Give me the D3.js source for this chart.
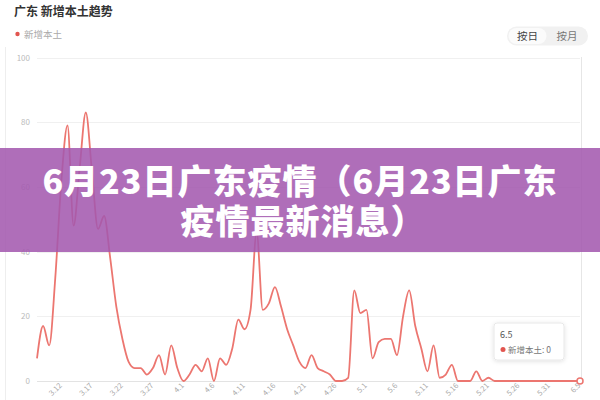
<!DOCTYPE html>
<html><head><meta charset="utf-8">
<script src="https://cdn.jsdelivr.net/npm/d3@7"></script>
<style>html,body{margin:0;padding:0;background:#fff;}svg{display:block;font-family:"Noto Sans CJK SC","Noto Sans",sans-serif;}</style>
</head><body><svg id="c" width="600" height="400"></svg>
<script>
const dates = ["3.8","3.9","3.10","3.11","3.12","3.13","3.14","3.15","3.16","3.17","3.18","3.19","3.20","3.21","3.22","3.23","3.24","3.25","3.26","3.27","3.28","3.29","3.30","3.31",
"4.1","4.2","4.3","4.4","4.5","4.6","4.7","4.8","4.9","4.10","4.11","4.12","4.13","4.14","4.15","4.16","4.17","4.18","4.19","4.20","4.21","4.22","4.23","4.24","4.25","4.26","4.27","4.28","4.29","4.30",
"5.1","5.2","5.3","5.4","5.5","5.6","5.7","5.8","5.9","5.10","5.11","5.12","5.13","5.14","5.15","5.16","5.17","5.18","5.19","5.20","5.21","5.22","5.23","5.24","5.25","5.26","5.27","5.28","5.29","5.30","5.31",
"6.1","6.2","6.3","6.4","6.5"];
const values = [7,17,11,32,62,79,48,66,83,65,47,51,38,23,13,6,4,4,2,4,8,2,11,4,
0,2,5,3,7,0,7,5,10,19,16,22,46,22,24,29,23,16,11,6,4,8,4,3,2,0,0,1,28,21,
22,7,12,13,13,8,20,28,17,10,3,11,1,2,5,0,0,0,3,0,1,0,0,0,0,0,0,0,0,0,0,
0,0,0,0,0];
const xTickLabels = ["3.12","3.17","3.22","3.27","4.1","4.6","4.11","4.16","4.21","4.26","5.1","5.6","5.11","5.16","5.21","5.26","5.31","6.5"];
const yTicks = [0,20,40,60,80,100];
const seriesName = "新增本土";
const title = "广东 新增本土趋势";
const buttons = ["按日","按月"];
const bannerLines = ["6月23日广东疫情（6月23日广东","疫情最新消息）"];

const svg = d3.select("#c");
const lineColor = "#ec7670";
const x = d3.scalePoint().domain(dates).range([37, 580]);
const y = d3.scaleLinear().domain([0, 100]).range([381, 57.5]);

// card left border
svg.append("line").attr("x1",5.5).attr("x2",5.5).attr("y1",47).attr("y2",400).attr("stroke","#eeeeee");

// title
svg.append("text").attr("x",14).attr("y",16).attr("font-size",12).attr("font-weight","bold").attr("fill","#333").text(title);
// legend
svg.append("circle").attr("cx",17.5).attr("cy",34).attr("r",2.2).attr("fill","#e2554f");
svg.append("text").attr("x",24).attr("y",37.5).attr("font-size",9.5).attr("fill","#aaa").text(seriesName);

// buttons
svg.append("rect").attr("x",507).attr("y",26.5).attr("width",81).attr("height",19).attr("rx",9.5).attr("fill","#f1f1f1");
svg.append("rect").attr("x",508.5).attr("y",28).attr("width",38).attr("height",16).attr("rx",8).attr("fill","#fbfbfb");
svg.append("text").attr("x",527.5).attr("y",39.5).attr("text-anchor","middle").attr("font-size",10.5).attr("fill","#444").text(buttons[0]);
svg.append("text").attr("x",567).attr("y",39.5).attr("text-anchor","middle").attr("font-size",10.5).attr("fill","#777").text(buttons[1]);

// grid
const g = svg.append("g");
g.selectAll("line.grid").data(yTicks).join("line").attr("class","grid")
  .attr("x1",37).attr("x2",580).attr("y1",d=>Math.round(y(d))+0.5).attr("y2",d=>Math.round(y(d))+0.5)
  .attr("stroke",d=>d===0?"#e3e3e3":"#f0f0f0");
g.selectAll("text.yl").data(yTicks).join("text").attr("class","yl")
  .attr("x",30).attr("y",d=>y(d)+3).attr("text-anchor","end").attr("font-size",8).attr("fill","#bbb").text(d=>d);

// x labels
g.selectAll("text.xl").data(xTickLabels).join("text").attr("class","xl")
  .attr("transform",d=>`translate(${x(d)+1},${386}) rotate(-45)`)
  .attr("text-anchor","end").attr("font-size",7.5).attr("fill","#aaa").text(d=>d);

// axis pointer
svg.append("line").attr("x1",x(dates[dates.length-1])+1.5).attr("x2",x(dates[dates.length-1])+1.5)
  .attr("y1",57).attr("y2",381).attr("stroke","#e6e6e6");

// line
const line = d3.line().x((d,i)=>x(dates[i])).y(d=>y(d)).curve(d3.curveMonotoneX);
svg.append("path").datum(values).attr("d",line).attr("fill","none").attr("stroke",lineColor).attr("stroke-width",1.8);

// last point marker
svg.append("circle").attr("cx",x(dates[dates.length-1])).attr("cy",y(values[values.length-1]))
  .attr("r",3).attr("fill","#fff").attr("stroke",lineColor).attr("stroke-width",1.5);

// tooltip
const defs = svg.append("defs");
const f = defs.append("filter").attr("id","sh").attr("x","-20%").attr("y","-20%").attr("width","140%").attr("height","140%");
f.append("feDropShadow").attr("dx",0).attr("dy",1).attr("stdDeviation",2).attr("flood-color","#000").attr("flood-opacity",0.12);
svg.append("rect").attr("x",494).attr("y",323).attr("width",70).attr("height",37).attr("rx",3)
  .attr("fill","#fff").attr("stroke","#e8e8e8").attr("filter","url(#sh)");
svg.append("text").attr("x",500).attr("y",338).attr("font-size",9).attr("fill","#555").text(dates[dates.length-1]);
svg.append("circle").attr("cx",503).attr("cy",349.5).attr("r",2.5).attr("fill","#e2554f");
svg.append("text").attr("x",508).attr("y",353).attr("font-size",8.5).attr("fill","#777").text(seriesName + ": " + values[values.length-1]);

// banner
svg.append("rect").attr("x",0).attr("y",148).attr("width",600).attr("height",104).attr("fill","rgba(163,88,175,0.87)");
const bt = svg.append("text").attr("text-anchor","middle")
  .attr("font-size",34).attr("font-weight",900).attr("letter-spacing",1).attr("fill","#fff");
bt.selectAll("tspan").data(bannerLines).join("tspan")
  .attr("x",(d,i)=>i===0?300:303).attr("y",(d,i)=>194+i*40).text(d=>d);
</script></body></html>
